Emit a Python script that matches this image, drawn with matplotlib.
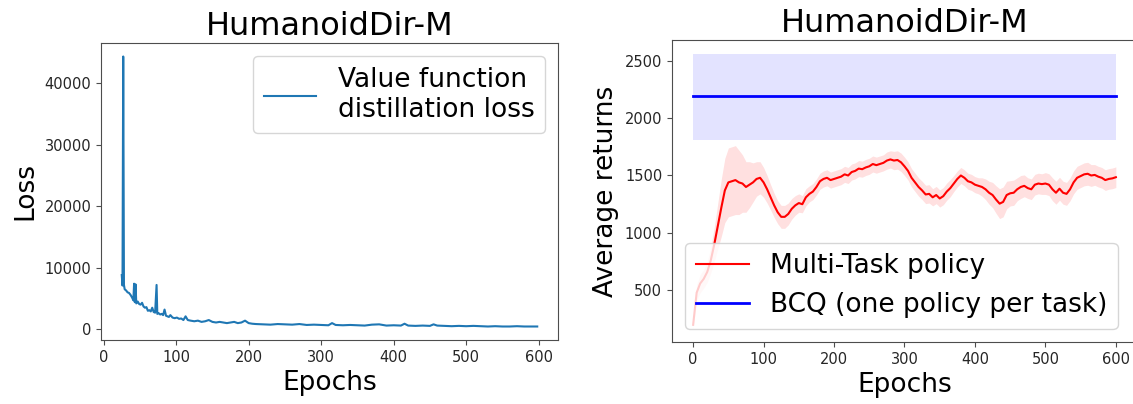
import matplotlib
matplotlib.use('Agg')
import matplotlib.pyplot as plt
import numpy as np

# left panel: value function distillation loss
loss_epochs = [25, 26, 27, 28, 29, 31, 33, 35, 37, 39, 41, 42, 43, 44, 45, 47, 49,
               51, 53, 55, 57, 59, 61, 63, 65, 67, 69, 71, 73, 74, 76, 78, 80, 82,
               84, 86, 88, 90, 92, 95, 98, 101, 104, 107, 110, 113, 116, 120, 125,
               130, 135, 140, 145, 150, 155, 160, 165, 170, 175, 180, 185, 190, 195,
               200, 205, 210, 220, 230, 240, 250, 260, 270, 280, 290, 300, 310, 315,
               320, 330, 340, 350, 360, 370, 380, 390, 400, 410, 415, 420, 430, 440,
               450, 455, 460, 470, 480, 490, 500, 510, 520, 530, 540, 550, 560, 570,
               580, 590, 598]
loss_values = [8800, 7100, 44300, 7200, 6500, 6300, 6000, 5900, 5600, 5200, 4700,
               7400, 4400, 7300, 4200, 4500, 4100, 4000, 4300, 3700, 3500, 3600,
               3000, 3100, 2900, 3500, 2800, 2700, 7200, 2500, 2600, 2400, 2500,
               2300, 3200, 2200, 2100, 2000, 2300, 1900, 1800, 1900, 1700, 1750,
               1500, 2100, 1500, 1400, 1300, 1400, 1200, 1300, 1500, 1200, 1100,
               1200, 1100, 1000, 1100, 1200, 1000, 1100, 1400, 1000, 900, 850, 800,
               750, 850, 800, 750, 850, 700, 750, 700, 650, 1000, 700, 650, 700,
               650, 600, 750, 800, 600, 650, 600, 900, 600, 550, 600, 550, 800, 600,
               550, 500, 550, 500, 550, 500, 450, 500, 450, 450, 500, 450, 450, 450]

# right panel: average returns
ret_epochs = list(range(0, 601, 5))
mt_mean = [200, 480, 560, 600, 660, 760, 900, 1060, 1220, 1370, 1440, 1450, 1460,
           1440, 1430, 1400, 1420, 1440, 1470, 1480, 1440, 1380, 1310, 1240, 1180,
           1140, 1140, 1165, 1210, 1240, 1260, 1250, 1310, 1340, 1360, 1400, 1450,
           1470, 1480, 1460, 1470, 1480, 1490, 1510, 1500, 1530, 1540, 1560, 1555,
           1570, 1580, 1600, 1590, 1600, 1610, 1630, 1640, 1630, 1635, 1615, 1580,
           1540, 1480, 1440, 1400, 1370, 1335, 1340, 1310, 1330, 1300, 1320, 1360,
           1390, 1430, 1470, 1500, 1480, 1450, 1440, 1420, 1410, 1400, 1380, 1350,
           1330, 1290, 1255, 1270, 1330, 1345, 1350, 1380, 1400, 1410, 1390, 1380,
           1420, 1430, 1425, 1430, 1420, 1380, 1350, 1385, 1350, 1340, 1380, 1440,
           1480, 1495, 1510, 1515, 1500, 1505, 1490, 1480, 1460, 1470, 1475, 1485]
mt_std = [30, 70, 80, 80, 90, 110, 150, 200, 250, 280, 300, 300, 300, 280, 250,
          220, 200, 170, 150, 140, 130, 120, 110, 105, 100, 100, 100, 95, 90, 85,
          80, 75, 75, 70, 70, 70, 70, 70, 70, 70, 70, 70, 70, 70, 70, 70, 70, 70,
          70, 70, 70, 70, 70, 70, 70, 75, 75, 80, 80, 80, 80, 80, 80, 80, 80, 80,
          80, 80, 75, 75, 75, 75, 75, 75, 70, 70, 70, 70, 70, 70, 70, 70, 80, 90,
          100, 110, 120, 130, 130, 120, 110, 110, 100, 100, 95, 90, 90, 90, 90, 90,
          95, 95, 100, 100, 100, 100, 100, 100, 100, 100, 100, 100, 100, 95, 90, 90,
          90, 90, 90, 90, 90]
bcq_epochs = [0, 600]
bcq_mean = 2190
bcq_low = 1810
bcq_high = 2560

plt.rcParams['axes.edgecolor'] = '0.3'
plt.rcParams['xtick.color'] = '0.3'
plt.rcParams['ytick.color'] = '0.3'
plt.rcParams['xtick.labelcolor'] = '0.15'
plt.rcParams['ytick.labelcolor'] = '0.15'

fig = plt.figure(figsize=(11.33, 4.04), dpi=100)
ax1 = fig.add_axes([101 / 1133, 64 / 404, 457 / 1133, 297 / 404])
ax2 = fig.add_axes([672 / 1133, 62 / 404, 465 / 1133, 302 / 404])

ax1.plot(loss_epochs, loss_values, color='#1f77b4', lw=1.5,
         label='Value function\ndistillation loss')
ax1.set_title('HumanoidDir-M', fontsize=23)
ax1.set_xlabel('Epochs', fontsize=19)
ax1.set_ylabel('Loss', fontsize=19)
ax1.tick_params(labelsize=10.5)
ax1.legend(loc='upper right', fontsize=19)

mt_mean = np.array(mt_mean)
mt_std = np.array(mt_std)
ax2.plot(ret_epochs, mt_mean, color='red', lw=1.5, label='Multi-Task policy')
ax2.fill_between(ret_epochs, mt_mean - mt_std, mt_mean + mt_std,
                 color='red', alpha=0.12, lw=0)
ax2.plot(bcq_epochs, [bcq_mean, bcq_mean], color='blue', lw=2,
         label='BCQ (one policy per task)')
ax2.fill_between(bcq_epochs, [bcq_low, bcq_low], [bcq_high, bcq_high],
                 color='blue', alpha=0.11, lw=0)
ax2.set_title('HumanoidDir-M', fontsize=23)
ax2.set_xlabel('Epochs', fontsize=19)
ax2.set_ylabel('Average returns', fontsize=19)
ax2.set_yticks([500, 1000, 1500, 2000, 2500])
ax2.tick_params(labelsize=10.5)
ax2.legend(loc='lower left', fontsize=19)

fig.savefig('out.png', dpi=100)
